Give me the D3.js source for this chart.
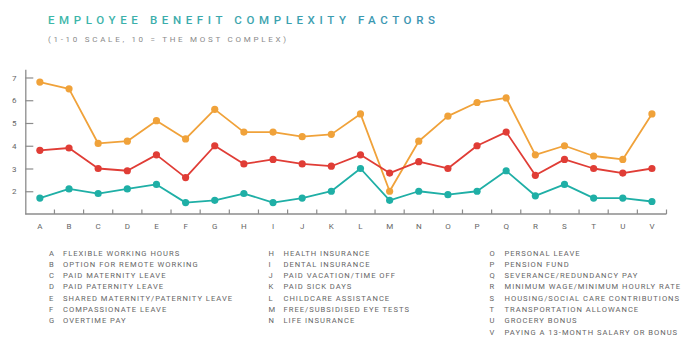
<!DOCTYPE html>
<html>
<head>
<meta charset="utf-8">
<script src="https://cdn.jsdelivr.net/npm/d3@7"></script>
<style>
  body { margin: 0; background: #fff; }
  svg { display: block; font-family: Roboto, "Noto Sans", sans-serif; }
</style>
</head>
<body>
<svg id="chart"></svg>
<script>
// Data
const codes = ["A","B","C","D","E","F","G","H","I","J","K","L","M","N","O","P","Q","R","S","T","U","V"];
const orangeValues = [6.8, 6.5, 4.1, 4.2, 5.1, 4.3, 5.6, 4.6, 4.6, 4.4, 4.5, 5.4, 2.0, 4.2, 5.3, 5.9, 6.1, 3.6, 4.0, 3.55, 3.4, 5.4];
const redValues = [3.8, 3.9, 3.0, 2.9, 3.6, 2.6, 4.0, 3.2, 3.4, 3.2, 3.1, 3.6, 2.8, 3.3, 3.0, 4.0, 4.6, 2.7, 3.4, 3.0, 2.8, 3.0];
const tealValues = [1.7, 2.1, 1.9, 2.1, 2.3, 1.5, 1.6, 1.9, 1.5, 1.7, 2.0, 3.0, 1.6, 2.0, 1.85, 2.0, 2.9, 1.8, 2.3, 1.7, 1.7, 1.55];
const yTicks = [2, 3, 4, 5, 6, 7];
const benefitNames = [
  "FLEXIBLE WORKING HOURS", "OPTION FOR REMOTE WORKING", "PAID MATERNITY LEAVE",
  "PAID PATERNITY LEAVE", "SHARED MATERNITY/PATERNITY LEAVE", "COMPASSIONATE LEAVE",
  "OVERTIME PAY", "HEALTH INSURANCE", "DENTAL INSURANCE", "PAID VACATION/TIME OFF",
  "PAID SICK DAYS", "CHILDCARE ASSISTANCE", "FREE/SUBSIDISED EYE TESTS", "LIFE INSURANCE",
  "PERSONAL LEAVE", "PENSION FUND", "SEVERANCE/REDUNDANCY PAY",
  "MINIMUM WAGE/MINIMUM HOURLY RATE", "HOUSING/SOCIAL CARE CONTRIBUTIONS",
  "TRANSPORTATION ALLOWANCE", "GROCERY BONUS", "PAYING A 13-MONTH SALARY OR BONUS"
];

const width = 700;
const height = 353;

const series = [
  { values: orangeValues, color: "#f0a23a" },
  { values: redValues, color: "#e03d36" },
  { values: tealValues, color: "#1fafa6" }
];

const svg = d3.select("#chart")
  .attr("width", width)
  .attr("height", height);

// title with teal -> blue gradient
const grad = svg.append("defs").append("linearGradient")
  .attr("id", "titleGrad")
  .attr("gradientUnits", "userSpaceOnUse")
  .attr("x1", 48).attr("x2", 435).attr("y1", 0).attr("y2", 0);
grad.append("stop").attr("offset", "0%").attr("stop-color", "#3cb8a8");
grad.append("stop").attr("offset", "100%").attr("stop-color", "#3a92b2");

svg.append("text")
  .text("EMPLOYEE BENEFIT COMPLEXITY FACTORS")
  .attr("x", 48)
  .attr("y", 24)
  .attr("textLength", 387)
  .attr("lengthAdjust", "spacing")
  .attr("fill", "url(#titleGrad)")
  .style("font-size", "11.5px")
  .style("font-weight", 500);

svg.append("text")
  .text("(1-10 SCALE, 10 = THE MOST COMPLEX)")
  .attr("x", 48)
  .attr("y", 41.5)
  .attr("textLength", 238)
  .attr("lengthAdjust", "spacing")
  .attr("fill", "#8a8a8a")
  .style("font-size", "8px");

// scales
const x = d3.scaleBand()
  .domain(codes)
  .range([25.3, 666.5]);

const y = d3.scaleLinear()
  .domain([1, 7.36])
  .range([214, 69.3]);

const cx = d => x(d) + x.bandwidth() / 2;

// axes
const axisColor = "#8c8c8c";

const yAxis = svg.append("g")
  .attr("transform", "translate(25.3,0)")
  .call(d3.axisLeft(y).tickValues(yTicks).tickFormat(d3.format("d")).tickSize(-8).tickPadding(14).tickSizeOuter(0));
yAxis.select(".domain").attr("stroke", axisColor).attr("stroke-width", 1.3);
yAxis.selectAll(".tick line").attr("stroke", axisColor).attr("stroke-width", 1.2);
yAxis.selectAll(".tick text")
  .attr("x", -11)
  .attr("text-anchor", "middle")
  .attr("fill", "#666")
  .style("font-size", "8px")
  .style("font-family", "Roboto, sans-serif");

const boundaries = codes.slice(1).map(c => x(c)).concat([x.range()[1]]);
const xAxisG = svg.append("g");
xAxisG.append("line")
  .attr("x1", x.range()[0]).attr("x2", x.range()[1])
  .attr("y1", y(1)).attr("y2", y(1))
  .attr("stroke", axisColor).attr("stroke-width", 1.3);
xAxisG.selectAll("line.tick")
  .data(boundaries)
  .enter()
  .append("line")
  .attr("class", "tick")
  .attr("x1", d => d).attr("x2", d => d)
  .attr("y1", y(1)).attr("y2", y(1) - 4.5)
  .attr("stroke", axisColor).attr("stroke-width", 1.2);
xAxisG.selectAll("text")
  .data(codes)
  .enter()
  .append("text")
  .text(d => d)
  .attr("x", d => cx(d))
  .attr("y", 228.5)
  .attr("text-anchor", "middle")
  .attr("fill", "#666")
  .style("font-size", "8px");

// lines and dots
const line = d3.line()
  .x((d, i) => cx(codes[i]))
  .y(d => y(d));

series.forEach(s => {
  svg.append("path")
    .datum(s.values)
    .attr("d", line)
    .attr("fill", "none")
    .attr("stroke", s.color)
    .attr("stroke-width", 1.8)
    .attr("stroke-linejoin", "round");
  svg.append("g")
    .selectAll("circle")
    .data(s.values)
    .enter()
    .append("circle")
    .attr("cx", (d, i) => cx(codes[i]))
    .attr("cy", d => y(d))
    .attr("r", 3.6)
    .attr("fill", s.color);
});

// legend, three columns
const legendCols = [
  { start: 0, count: 7, letterX: 49, textX: 63 },
  { start: 7, count: 7, letterX: 268.5, textX: 283.5 },
  { start: 14, count: 8, letterX: 489.5, textX: 504.5 }
];
const rowY = d3.scaleLinear().domain([0, 1]).range([255.5, 266.8]);

legendCols.forEach(col => {
  const rows = d3.range(col.start, col.start + col.count);
  const g = svg.append("g")
    .attr("fill", "#666")
    .style("font-size", "7.6px")
    .style("letter-spacing", "1px");
  g.selectAll("text.code")
    .data(rows)
    .enter()
    .append("text")
    .attr("class", "code")
    .attr("x", col.letterX)
    .attr("y", (d, i) => rowY(i))
    .text(d => codes[d]);
  g.selectAll("text.name")
    .data(rows)
    .enter()
    .append("text")
    .attr("class", "name")
    .attr("x", col.textX)
    .attr("y", (d, i) => rowY(i))
    .text(d => benefitNames[d]);
});
</script>
</body>
</html>
